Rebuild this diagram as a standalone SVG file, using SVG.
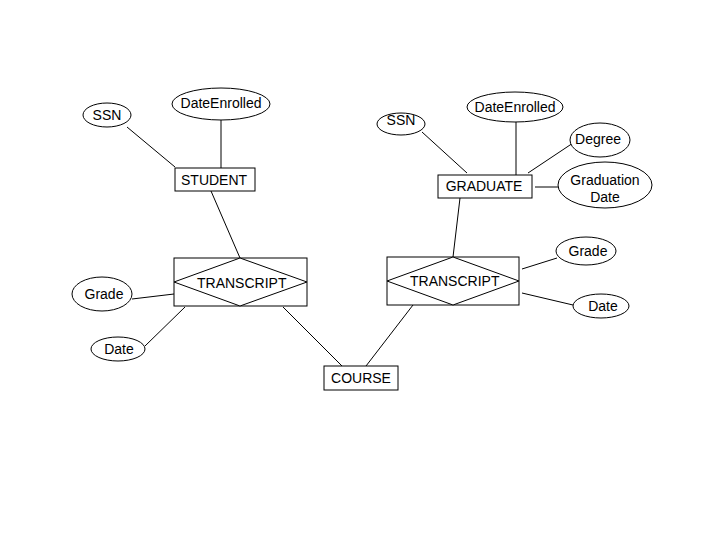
<svg xmlns="http://www.w3.org/2000/svg" width="720" height="540" viewBox="0 0 720 540">
<style>
.s{fill:#fff;stroke:#000;stroke-width:1}
.l{stroke:#000;stroke-width:1;fill:none}
text{font-family:"Liberation Sans",Arial,sans-serif;font-size:14px;fill:#000}
.c{text-anchor:middle}
</style>
<rect width="720" height="540" fill="#fff"/>
<g id="connectors">
<line class="l" x1="127" y1="127" x2="175" y2="167"/>
<line class="l" x1="221" y1="120" x2="221" y2="168"/>
<line class="l" x1="211" y1="191" x2="240" y2="258"/>
<line class="l" x1="132" y1="299" x2="174" y2="294"/>
<line class="l" x1="145" y1="346" x2="185" y2="307"/>
<line class="l" x1="283" y1="307" x2="342" y2="366"/>
<line class="l" x1="366" y1="366" x2="413" y2="305"/>
<line class="l" x1="460" y1="198" x2="453" y2="257"/>
<line class="l" x1="422" y1="132" x2="467" y2="173"/>
<line class="l" x1="516" y1="122" x2="516" y2="175"/>
<line class="l" x1="573" y1="143" x2="528" y2="173"/>
<line class="l" x1="535" y1="187" x2="558" y2="187"/>
<line class="l" x1="522" y1="269" x2="557" y2="258"/>
<line class="l" x1="522" y1="293" x2="573" y2="305"/>
</g>
<g id="ssn1"><ellipse class="s" cx="107" cy="115" rx="24" ry="12"/><text class="c" x="107" y="120">SSN</text></g>
<g id="dateenrolled1"><ellipse class="s" cx="221" cy="104" rx="49" ry="16"/><text class="c" x="221" y="108">DateEnrolled</text></g>
<g id="student"><rect class="s" x="175" y="168" width="80" height="23"/><text x="181" y="185">STUDENT</text></g>
<g id="transcript1"><rect class="s" x="174" y="258" width="133" height="48"/><polygon class="s" points="240,258 307,282 240,306 174,282"/><text x="197" y="288">TRANSCRIPT</text></g>
<g id="grade1"><ellipse class="s" cx="102" cy="294" rx="30" ry="17"/><text class="c" x="104" y="299">Grade</text></g>
<g id="date1"><ellipse class="s" cx="118" cy="349" rx="27" ry="12"/><text class="c" x="119" y="354">Date</text></g>
<g id="course"><rect class="s" x="324" y="366" width="74" height="24"/><text class="c" x="361" y="383">COURSE</text></g>
<g id="ssn2"><ellipse class="s" cx="401" cy="124" rx="24" ry="11"/><text class="c" x="401" y="125">SSN</text></g>
<g id="dateenrolled2"><ellipse class="s" cx="515" cy="107" rx="48" ry="15"/><text class="c" x="515" y="112">DateEnrolled</text></g>
<g id="degree"><ellipse class="s" cx="600" cy="140" rx="30" ry="17"/><text class="c" x="598" y="144">Degree</text></g>
<g id="graduate"><rect class="s" x="438" y="175" width="94" height="23"/><text class="c" x="484" y="191">GRADUATE</text></g>
<g id="graduationdate"><ellipse class="s" cx="605" cy="185" rx="47" ry="23"/><text class="c" x="605" y="185">Graduation</text><text class="c" x="605" y="202">Date</text></g>
<g id="transcript2"><rect class="s" x="387" y="257" width="132" height="48"/><polygon class="s" points="453,257 519,281 453,305 387,281"/><text x="410" y="286">TRANSCRIPT</text></g>
<g id="grade2"><ellipse class="s" cx="586" cy="251" rx="30" ry="14"/><text class="c" x="588" y="256">Grade</text></g>
<g id="date2"><ellipse class="s" cx="601" cy="306" rx="28" ry="12"/><text class="c" x="603" y="311">Date</text></g>
</svg>
